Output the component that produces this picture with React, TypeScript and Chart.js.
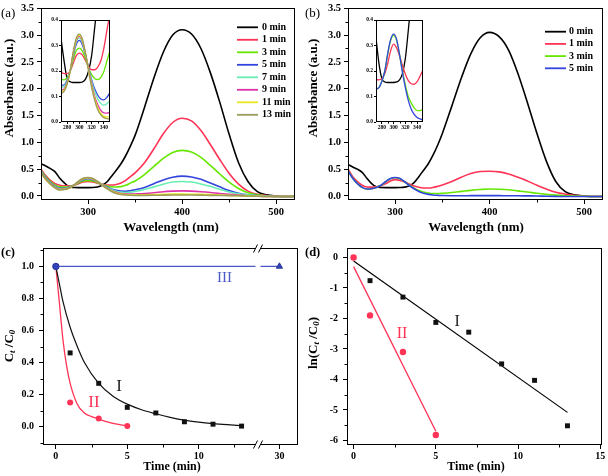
import React, { useEffect, useRef } from "react";
import { Chart, registerables } from "chart.js";

Chart.register(...registerables);

const SERIF = '"Liberation Serif", "Times New Roman", Times, serif';

// ---------------- (a) / (b) absorption spectra ----------------
const WAVELENGTH = [250, 255, 260, 265, 270, 275, 280, 285, 290, 295, 300, 305, 310, 315, 320, 325, 330, 335, 340, 345, 350,
  360, 370, 380, 390, 400, 410, 420, 430, 440, 450, 460, 470, 480, 490, 500, 510, 520];

const A_LABELS = ["0 min", "1 min", "3 min", "5 min", "7 min", "9 min", "11 min", "13 min"];
const A_COLORS = ["#000000", "#ff3355", "#66e600", "#3344dd", "#66eeb4", "#dd33aa", "#e8e820", "#9a9a5a"];

const A_0MIN = [0.60, 0.56, 0.51, 0.45, 0.33, 0.24, 0.17, 0.158, 0.155, 0.155, 0.155, 0.157, 0.168, 0.2, 0.26, 0.37, 0.48, 0.6, 0.75, 0.93, 1.13,
  1.65, 2.2, 2.68, 3.0, 3.1, 3.02, 2.75, 2.3, 1.75, 1.15, 0.62, 0.27, 0.08, 0.02, 0.0, -0.01, -0.01];
const A_1MIN = [0.50, 0.38, 0.29, 0.23, 0.2, 0.19, 0.19, 0.2, 0.23, 0.26, 0.27, 0.262, 0.24, 0.218, 0.205, 0.205, 0.215, 0.24, 0.29, 0.36, 0.43,
  0.62, 0.88, 1.16, 1.37, 1.45, 1.4, 1.22, 0.96, 0.68, 0.42, 0.22, 0.09, 0.03, 0.01, 0.0, -0.01, -0.01];
const A_3MIN = [0.48, 0.36, 0.27, 0.2, 0.17, 0.165, 0.175, 0.2, 0.245, 0.28, 0.29, 0.278, 0.248, 0.212, 0.186, 0.171, 0.166, 0.175, 0.198, 0.24, 0.28,
  0.4, 0.55, 0.7, 0.81, 0.85, 0.82, 0.72, 0.57, 0.41, 0.26, 0.14, 0.06, 0.02, 0.0, -0.01, -0.01, -0.01];
const A_5MIN = [0.47, 0.34, 0.25, 0.18, 0.145, 0.145, 0.165, 0.2, 0.26, 0.305, 0.32, 0.302, 0.262, 0.212, 0.166, 0.13, 0.105, 0.09, 0.087, 0.097, 0.115,
  0.16, 0.23, 0.3, 0.35, 0.37, 0.355, 0.31, 0.24, 0.17, 0.1, 0.05, 0.02, 0.01, 0.0, -0.01, -0.01, -0.01];
const A_7MIN = [0.46, 0.33, 0.24, 0.17, 0.135, 0.14, 0.16, 0.2, 0.265, 0.315, 0.33, 0.31, 0.266, 0.21, 0.16, 0.12, 0.09, 0.073, 0.066, 0.072, 0.085,
  0.12, 0.17, 0.22, 0.26, 0.27, 0.26, 0.225, 0.18, 0.125, 0.075, 0.04, 0.02, 0.005, 0.0, -0.01, -0.01, -0.01];
const A_9MIN = [0.45, 0.32, 0.23, 0.16, 0.125, 0.13, 0.155, 0.2, 0.27, 0.32, 0.336, 0.316, 0.268, 0.208, 0.15, 0.1, 0.068, 0.046, 0.036, 0.035, 0.038,
  0.045, 0.06, 0.08, 0.09, 0.095, 0.09, 0.08, 0.065, 0.045, 0.03, 0.015, 0.005, 0.0, -0.01, -0.01, -0.01, -0.01];
const A_11MIN = [0.44, 0.31, 0.22, 0.15, 0.118, 0.125, 0.15, 0.2, 0.272, 0.325, 0.34, 0.32, 0.268, 0.203, 0.142, 0.092, 0.056, 0.034, 0.023, 0.02, 0.02,
  0.022, 0.025, 0.03, 0.034, 0.035, 0.033, 0.03, 0.025, 0.018, 0.012, 0.006, 0.002, 0.0, -0.01, -0.01, -0.01, -0.01];
const A_13MIN = [0.44, 0.31, 0.22, 0.15, 0.112, 0.12, 0.148, 0.2, 0.275, 0.33, 0.345, 0.325, 0.27, 0.2, 0.136, 0.085, 0.048, 0.028, 0.017, 0.013, 0.012,
  0.012, 0.013, 0.015, 0.017, 0.018, 0.017, 0.015, 0.012, 0.01, 0.006, 0.003, 0.0, -0.005, -0.01, -0.01, -0.01, -0.01];
const A_SERIES = [A_0MIN, A_1MIN, A_3MIN, A_5MIN, A_7MIN, A_9MIN, A_11MIN, A_13MIN];

const B_LABELS = ["0 min", "1 min", "3 min", "5 min"];
const B_COLORS = ["#000000", "#ff3355", "#66e600", "#3344dd"];
const B_0MIN = [0.59, 0.54, 0.5, 0.44, 0.33, 0.23, 0.17, 0.157, 0.155, 0.155, 0.155, 0.157, 0.165, 0.19, 0.25, 0.36, 0.48, 0.6, 0.76, 0.95, 1.17,
  1.68, 2.2, 2.65, 2.95, 3.05, 2.97, 2.72, 2.28, 1.74, 1.17, 0.65, 0.27, 0.08, 0.02, 0.0, -0.01, -0.01];
const B_1MIN = [0.5, 0.36, 0.27, 0.2, 0.167, 0.165, 0.17, 0.19, 0.23, 0.28, 0.305, 0.29, 0.26, 0.222, 0.187, 0.162, 0.15, 0.148, 0.158, 0.18, 0.205,
  0.27, 0.35, 0.42, 0.455, 0.46, 0.45, 0.41, 0.35, 0.28, 0.2, 0.13, 0.07, 0.035, 0.012, 0.0, -0.01, -0.01];
const B_3MIN = [0.47, 0.33, 0.23, 0.16, 0.13, 0.135, 0.16, 0.2, 0.265, 0.32, 0.34, 0.32, 0.265, 0.2, 0.145, 0.1, 0.075, 0.055, 0.045, 0.045, 0.05,
  0.065, 0.085, 0.105, 0.12, 0.13, 0.125, 0.115, 0.095, 0.075, 0.05, 0.03, 0.015, 0.005, 0.0, -0.005, -0.01, -0.01];
const B_5MIN = [0.47, 0.33, 0.23, 0.16, 0.13, 0.135, 0.16, 0.2, 0.27, 0.325, 0.345, 0.325, 0.265, 0.195, 0.135, 0.085, 0.05, 0.03, 0.018, 0.012, 0.008,
  0.005, 0.005, 0.006, 0.007, 0.007, 0.006, 0.005, 0.004, 0.002, 0.0, -0.005, -0.008, -0.01, -0.01, -0.01, -0.01, -0.01];
const B_SERIES = [B_0MIN, B_1MIN, B_3MIN, B_5MIN];

const SPEC_Y_TICKS = [0, 0.5, 1, 1.5, 2, 2.5, 3, 3.5];
const SPEC_Y_MINOR = [0.25, 0.75, 1.25, 1.75, 2.25, 2.75, 3.25];
const SPEC_X_TICKS = [300, 400, 500];
const SPEC_X_MINOR = [350, 450];
const INSET_X_TICKS = [280, 300, 320, 340];
const INSET_X_MINOR = [290, 310, 330];
const INSET_Y_TICKS = [0, 0.1, 0.2, 0.3, 0.4];

// ---------------- (c) Ct/C0 vs time ----------------
const C_I_TIME = [0, 1, 3, 5, 7, 9, 11, 13];
const C_I_VALUE = [1.0, 0.46, 0.27, 0.12, 0.085, 0.03, 0.015, 0.003];
const C_I_FIT_TIME = [0, 0.25, 0.5, 1, 1.5, 2, 3, 4, 5, 6, 7, 8, 9, 10, 11, 12, 13];
const C_I_FIT_VALUE = [1.0, 0.89, 0.78, 0.62, 0.5, 0.4, 0.27, 0.19, 0.14, 0.105, 0.08, 0.058, 0.04, 0.028, 0.019, 0.012, 0.006];
const C_II_TIME = [0, 1, 3, 5];
const C_II_VALUE = [1.0, 0.15, 0.05, 0.003];
const C_II_FIT_TIME = [0, 0.25, 0.5, 0.75, 1, 1.5, 2, 2.5, 3, 4, 5];
const C_II_FIT_VALUE = [1.0, 0.77, 0.54, 0.38, 0.27, 0.14, 0.085, 0.062, 0.047, 0.02, 0.004];
const C_III_TIME = [0, 30];
const C_III_VALUE = [1.0, 1.0];
const C_X_TICKS = [0, 5, 10, 30];
const C_X_MINOR = [2.5, 7.5, 12.5];
const C_Y_TICKS = [0, 0.2, 0.4, 0.6, 0.8, 1.0];
const C_Y_MINOR = [-0.1, 0.1, 0.3, 0.5, 0.7, 0.9, 1.1];
const BREAK_START = 14.15; // min, end of first axis segment
const BREAK_END = 28.5; // min, start of second axis segment
const toAxis = (t: number) => (t > BREAK_START ? t - (BREAK_END - BREAK_START) : t);
const fromAxis = (v: number) => (v > BREAK_START + 1e-9 ? v + (BREAK_END - BREAK_START) : v);

// ---------------- (d) ln(Ct/C0) vs time ----------------
const D_I_TIME = [0, 1, 3, 5, 7, 9, 11, 13];
const D_I_VALUE = [0, -0.76, -1.3, -2.13, -2.45, -3.49, -4.03, -5.52];
const D_I_FIT_TIME = [0, 13];
const D_I_FIT_VALUE = [-0.12, -5.08];
const D_II_TIME = [0, 1, 3, 5];
const D_II_VALUE = [0, -1.9, -3.1, -5.82];
const D_II_FIT_TIME = [0, 5];
const D_II_FIT_VALUE = [-0.3, -5.7];
const D_X_TICKS = [0, 5, 10, 15];
const D_X_MINOR = [2.5, 7.5, 12.5];
const D_Y_TICKS = [0, -1, -2, -3, -4, -5, -6];
const D_Y_MINOR = [-0.5, -1.5, -2.5, -3.5, -4.5, -5.5];

const BLACK = "#111111";
const RED = "#ff3355";
const BLUE = "#4a59c4";

// ---------------- helpers ----------------
const pts = (xs: number[], ys: number[], map: (v: number) => number = (v) => v) =>
  xs.map((x, i) => ({ x: map(x), y: ys[i] }));

function axis(o: any) {
  const map = o.map || ((v: number) => v);
  return {
    type: "linear",
    min: o.min,
    max: o.max,
    afterBuildTicks: (s: any) => {
      s.ticks = o.ticks.map((v: number) => ({ value: map(v) }));
    },
    afterFit: (s: any) => {
      if (o.horizontal) s.height = o.size;
      else s.width = o.size;
    },
    grid: {
      display: true,
      drawOnChartArea: false,
      drawTicks: true,
      tickLength: o.tickLen ?? 4,
      color: "#000",
      tickColor: "#000",
      lineWidth: 1,
    },
    border: { display: false },
    ticks: {
      color: "#000",
      font: { family: SERIF, size: o.fontSize, weight: "bold", lineHeight: 1 },
      padding: o.pad ?? 3,
      autoSkip: false,
      maxRotation: 0,
      callback: (v: number) => o.fmt(v),
    },
    title: { display: false },
  };
}

function decor(o: any) {
  return {
    id: "decor",
    beforeDatasetsDraw(chart: any) {
      if (!o.whiteArea) return;
      const { ctx, chartArea: a } = chart;
      ctx.save();
      ctx.fillStyle = "#fff";
      ctx.fillRect(a.left, a.top, a.right - a.left, a.bottom - a.top);
      ctx.restore();
    },
    afterDraw(chart: any) {
      const { ctx, chartArea: a, scales } = chart;
      const xs = scales.x;
      const ys = scales.y;
      const mx = o.mapX || ((v: number) => v);
      ctx.save();
      ctx.strokeStyle = "#000";
      ctx.lineWidth = 1;
      const ml = o.minorLen ?? 2.5;
      ctx.beginPath();
      (o.minorX || []).forEach((v: number) => {
        const p = Math.round(xs.getPixelForValue(mx(v))) + 0.5;
        ctx.moveTo(p, a.bottom);
        ctx.lineTo(p, a.bottom + ml);
      });
      (o.minorY || []).forEach((v: number) => {
        const p = Math.round(ys.getPixelForValue(v)) + 0.5;
        ctx.moveTo(a.left, p);
        ctx.lineTo(a.left - ml, p);
      });
      ctx.stroke();
      // frame
      ctx.lineWidth = o.frameWidth ?? 1;
      const L = Math.round(a.left) + 0.5, T = Math.round(a.top) + 0.5;
      const R = Math.round(a.right) - 0.5, B = Math.round(a.bottom) - 0.5;
      ctx.strokeRect(L, T, R - L, B - T);
      // axis break
      if (o.breakAt !== undefined) {
        const bx = xs.getPixelForValue(o.breakAt);
        ctx.fillStyle = "#fff";
        ctx.fillRect(bx - 2.5, a.top - 2, 5, a.bottom - a.top + 4);
        ctx.lineWidth = 1;
        ctx.beginPath();
        [T, B].forEach((y) => {
          [-2.5, 2.5].forEach((dx) => {
            ctx.moveTo(bx + dx - 2, y + 4);
            ctx.lineTo(bx + dx + 2, y - 4);
          });
        });
        ctx.stroke();
      }
      // legend
      if (o.legend) {
        const lg = o.legend;
        lg.labels.forEach((lab: string, i: number) => {
          const y = lg.y0 + i * lg.dy;
          ctx.strokeStyle = lg.colors[i];
          ctx.lineWidth = lg.lineWidth;
          ctx.beginPath();
          ctx.moveTo(lg.x0, y);
          ctx.lineTo(lg.x1, y);
          ctx.stroke();
          ctx.fillStyle = "#000";
          ctx.font = lg.font;
          ctx.textAlign = "left";
          ctx.textBaseline = "middle";
          ctx.fillText(lab, lg.tx, y);
        });
      }
      // texts in canvas coordinates
      (o.texts || []).forEach((t: any) => {
        ctx.fillStyle = t.color || "#000";
        ctx.font = t.font;
        ctx.textAlign = t.align || "center";
        ctx.textBaseline = "middle";
        ctx.fillText(t.text, t.x, t.y);
      });
      // texts in data coordinates
      (o.dataTexts || []).forEach((t: any) => {
        ctx.fillStyle = t.color || "#000";
        ctx.font = t.font;
        ctx.textAlign = "center";
        ctx.textBaseline = "middle";
        ctx.fillText(t.text, xs.getPixelForValue(mx(t.x)), ys.getPixelForValue(t.y));
      });
      // rotated y title with optional subscripts
      if (o.yTitle) {
        const yt = o.yTitle;
        ctx.translate(yt.x, yt.y);
        ctx.rotate(-Math.PI / 2);
        ctx.fillStyle = "#000";
        ctx.textAlign = "left";
        ctx.textBaseline = "middle";
        let total = 0;
        yt.parts.forEach((p: any) => {
          ctx.font = p.font;
          total += ctx.measureText(p.text).width;
        });
        let cx = -total / 2;
        yt.parts.forEach((p: any) => {
          ctx.font = p.font;
          ctx.fillText(p.text, cx, p.dy || 0);
          cx += ctx.measureText(p.text).width;
        });
      }
      ctx.restore();
    },
  };
}

function baseOptions(padding: any, scales: any) {
  return {
    responsive: false,
    maintainAspectRatio: false,
    animation: false,
    events: [],
    layout: { padding },
    plugins: { legend: { display: false }, tooltip: { enabled: false } },
    scales,
  };
}

const specSet = (ys: number[], color: string, width = 1.4) => ({
  data: pts(WAVELENGTH, ys),
  showLine: true,
  borderColor: color,
  backgroundColor: color,
  borderWidth: width,
  pointRadius: 0,
  cubicInterpolationMode: "monotone",
  fill: false,
});

const bold = (s: number) => `bold ${s}px ${SERIF}`;

function spectraConfig(series: number[][], colors: string[], labels: string[], panel: string, legend: any, rightPad: number, leftSize: number) {
  return {
    type: "scatter",
    data: { datasets: series.map((s, i) => ({ ...specSet(s, colors[i], 1.6), order: series.length - i })) },
    options: baseOptions({ left: 0, top: 6, right: rightPad, bottom: 0 }, {
      x: axis({ min: 250, max: 520, ticks: SPEC_X_TICKS, fmt: (v: number) => String(v), size: 38, horizontal: true, fontSize: 10.5, pad: 3 }),
      y: axis({ min: -0.075, max: 3.5, ticks: SPEC_Y_TICKS, fmt: (v: number) => v.toFixed(1), size: leftSize, fontSize: 10.5, pad: 3 }),
    }),
    plugins: [decor({
      minorX: SPEC_X_MINOR,
      minorY: SPEC_Y_MINOR,
      legend: { labels, colors, ...legend, font: bold(10), lineWidth: 1.8 },
      texts: [
        { text: panel, x: 1, y: 13.5, font: `13px ${SERIF}`, align: "left" },
        { text: "Wavelength (nm)", x: leftSize === 41 ? 171 : 172, y: 228, font: bold(13) },
      ],
      yTitle: { x: 10, y: 88, parts: [{ text: "Absorbance (a.u.)", font: bold(13) }] },
    })],
  };
}

function insetConfig(series: number[][], colors: string[], rightPad: number) {
  return {
    type: "scatter",
    data: { datasets: series.map((s, i) => ({ ...specSet(s, colors[i], 1.3), order: series.length - i })) },
    options: baseOptions({ left: 0, top: 6, right: rightPad, bottom: 0 }, {
      x: axis({ min: 270, max: 350, ticks: INSET_X_TICKS, fmt: (v: number) => String(v), size: 14, horizontal: true, fontSize: 5.5, pad: 1, tickLen: 2 }),
      y: axis({ min: 0, max: 0.4, ticks: INSET_Y_TICKS, fmt: (v: number) => v.toFixed(1), size: 16, fontSize: 5.5, pad: 1, tickLen: 2 }),
    }),
    plugins: [decor({ whiteArea: true, minorX: INSET_X_MINOR, minorLen: 1.5 })],
  };
}

const buildA = () => spectraConfig(A_SERIES, A_COLORS, A_LABELS, "(a)",
  { x0: 237, x1: 258, tx: 262, y0: 27.3, dy: 12.5 }, 9, 41);
const buildB = () => spectraConfig(B_SERIES, B_COLORS, B_LABELS, "(b)",
  { x0: 241, x1: 262, tx: 265, y0: 31.7, dy: 12.2 }, 5, 44);
const buildInsetA = () => insetConfig(A_SERIES, A_COLORS, 5);
const buildInsetB = () => insetConfig(B_SERIES, B_COLORS, 7);

const buildC = () => ({
  type: "scatter",
  data: {
    datasets: [
      { data: pts(C_III_TIME, C_III_VALUE, toAxis), showLine: true, borderColor: BLUE, borderWidth: 1.2,
        pointStyle: ["circle", "triangle"], pointRadius: [3.2, 3.6], backgroundColor: "#3344bb", pointBorderColor: "#2a3899", pointBorderWidth: 1, order: 0 },
      { data: pts(C_I_FIT_TIME, C_I_FIT_VALUE), showLine: true, borderColor: BLACK, borderWidth: 1.2, pointRadius: 0,
        cubicInterpolationMode: "monotone", order: 3 },
      { data: pts(C_II_FIT_TIME, C_II_FIT_VALUE), showLine: true, borderColor: RED, borderWidth: 1.3, pointRadius: 0,
        cubicInterpolationMode: "monotone", order: 3 },
      { data: pts(C_I_TIME, C_I_VALUE), pointStyle: "rect", pointRadius: 3.5, backgroundColor: BLACK, borderColor: BLACK, borderWidth: 0, order: 2 },
      { data: pts(C_II_TIME, C_II_VALUE), pointStyle: "circle", pointRadius: 3, backgroundColor: RED, borderColor: RED, borderWidth: 0, order: 1 },
    ],
  },
  options: baseOptions({ left: 0, top: 5, right: 6, bottom: 0 }, {
    x: axis({ min: -0.9, max: toAxis(31.3), ticks: C_X_TICKS, map: toAxis, fmt: (v: number) => String(Math.round(fromAxis(v))),
      size: 31, horizontal: true, fontSize: 10, pad: 2 }),
    y: axis({ min: -0.115, max: 1.115, ticks: C_Y_TICKS, fmt: (v: number) => v.toFixed(1), size: 43, fontSize: 10, pad: 5 }),
  }),
  plugins: [decor({
    mapX: toAxis,
    minorX: C_X_MINOR,
    minorY: C_Y_MINOR,
    breakAt: BREAK_START,
    texts: [
      { text: "(c)", x: 1, y: 15, font: bold(12.5), align: "left" },
      { text: "Time (min)", x: 172, y: 229, font: bold(12) },
    ],
    dataTexts: [
      { text: "I", x: 4.42, y: 0.25, font: `17px ${SERIF}`, color: "#222" },
      { text: "II", x: 2.67, y: 0.15, font: `17px ${SERIF}`, color: RED },
      { text: "III", x: 11.8, y: 0.93, font: `15px ${SERIF}`, color: BLUE },
    ],
    yTitle: { x: 10, y: 108, parts: [
      { text: "C", font: bold(13) },
      { text: "t", font: `italic bold 9px ${SERIF}`, dy: 3 },
      { text: " /C", font: bold(13) },
      { text: "0", font: `italic bold 9px ${SERIF}`, dy: 3 },
    ] },
  })],
});

const buildD = () => ({
  type: "scatter",
  data: {
    datasets: [
      { data: pts(D_I_FIT_TIME, D_I_FIT_VALUE), showLine: true, borderColor: "#000", borderWidth: 1.2, pointRadius: 0, order: 3 },
      { data: pts(D_II_FIT_TIME, D_II_FIT_VALUE), showLine: true, borderColor: RED, borderWidth: 1.3, pointRadius: 0, order: 3 },
      { data: pts(D_I_TIME, D_I_VALUE), pointStyle: "rect", pointRadius: 3.5, backgroundColor: BLACK, borderColor: BLACK, borderWidth: 0, order: 1 },
      { data: pts(D_II_TIME, D_II_VALUE), pointStyle: "circle", pointRadius: 3.2, backgroundColor: RED, borderColor: RED, borderWidth: 0, order: 0 },
    ],
  },
  options: baseOptions({ left: 0, top: 5, right: 6, bottom: 0 }, {
    x: axis({ min: -0.4, max: 15.1, ticks: D_X_TICKS, fmt: (v: number) => String(v), size: 31, horizontal: true, fontSize: 10, pad: 2 }),
    y: axis({ min: -6.15, max: 0.31, ticks: D_Y_TICKS, fmt: (v: number) => String(v), size: 43, fontSize: 10, pad: 5 }),
  }),
  plugins: [decor({
    minorX: D_X_MINOR,
    minorY: D_Y_MINOR,
    texts: [
      { text: "(d)", x: 1, y: 15, font: bold(12.5), align: "left" },
      { text: "Time (min)", x: 172, y: 229, font: bold(12) },
    ],
    dataTexts: [
      { text: "I", x: 6.29, y: -2.12, font: `16px ${SERIF}`, color: "#222" },
      { text: "II", x: 2.95, y: -2.5, font: `16px ${SERIF}`, color: RED },
    ],
    yTitle: { x: 10, y: 105, parts: [
      { text: "ln(C", font: bold(13) },
      { text: "t", font: `italic bold 9px ${SERIF}`, dy: 3 },
      { text: " /C", font: bold(13) },
      { text: "0", font: `italic bold 9px ${SERIF}`, dy: 3 },
      { text: ")", font: bold(13) },
    ] },
  })],
});

function ChartBox({ left, top, width, height, build }: any) {
  const ref = useRef<HTMLCanvasElement | null>(null);
  useEffect(() => {
    if (!ref.current) return;
    const chart = new Chart(ref.current, build() as any);
    return () => chart.destroy();
  }, [build]);
  return (
    <canvas
      ref={ref}
      width={width}
      height={height}
      style={{ position: "absolute", left, top, width, height }}
    />
  );
}

export default function App() {
  return (
    <div style={{ position: "fixed", left: 0, top: 0, width: 608, height: 476, background: "#fff", overflow: "hidden" }}>
      <ChartBox left={0} top={0} width={304} height={238} build={buildA} />
      <ChartBox left={304} top={0} width={304} height={238} build={buildB} />
      <ChartBox left={45} top={14} width={70} height={122} build={buildInsetA} />
      <ChartBox left={360} top={14} width={70} height={122} build={buildInsetB} />
      <ChartBox left={0} top={238} width={304} height={238} build={buildC} />
      <ChartBox left={304} top={238} width={304} height={238} build={buildD} />
    </div>
  );
}
